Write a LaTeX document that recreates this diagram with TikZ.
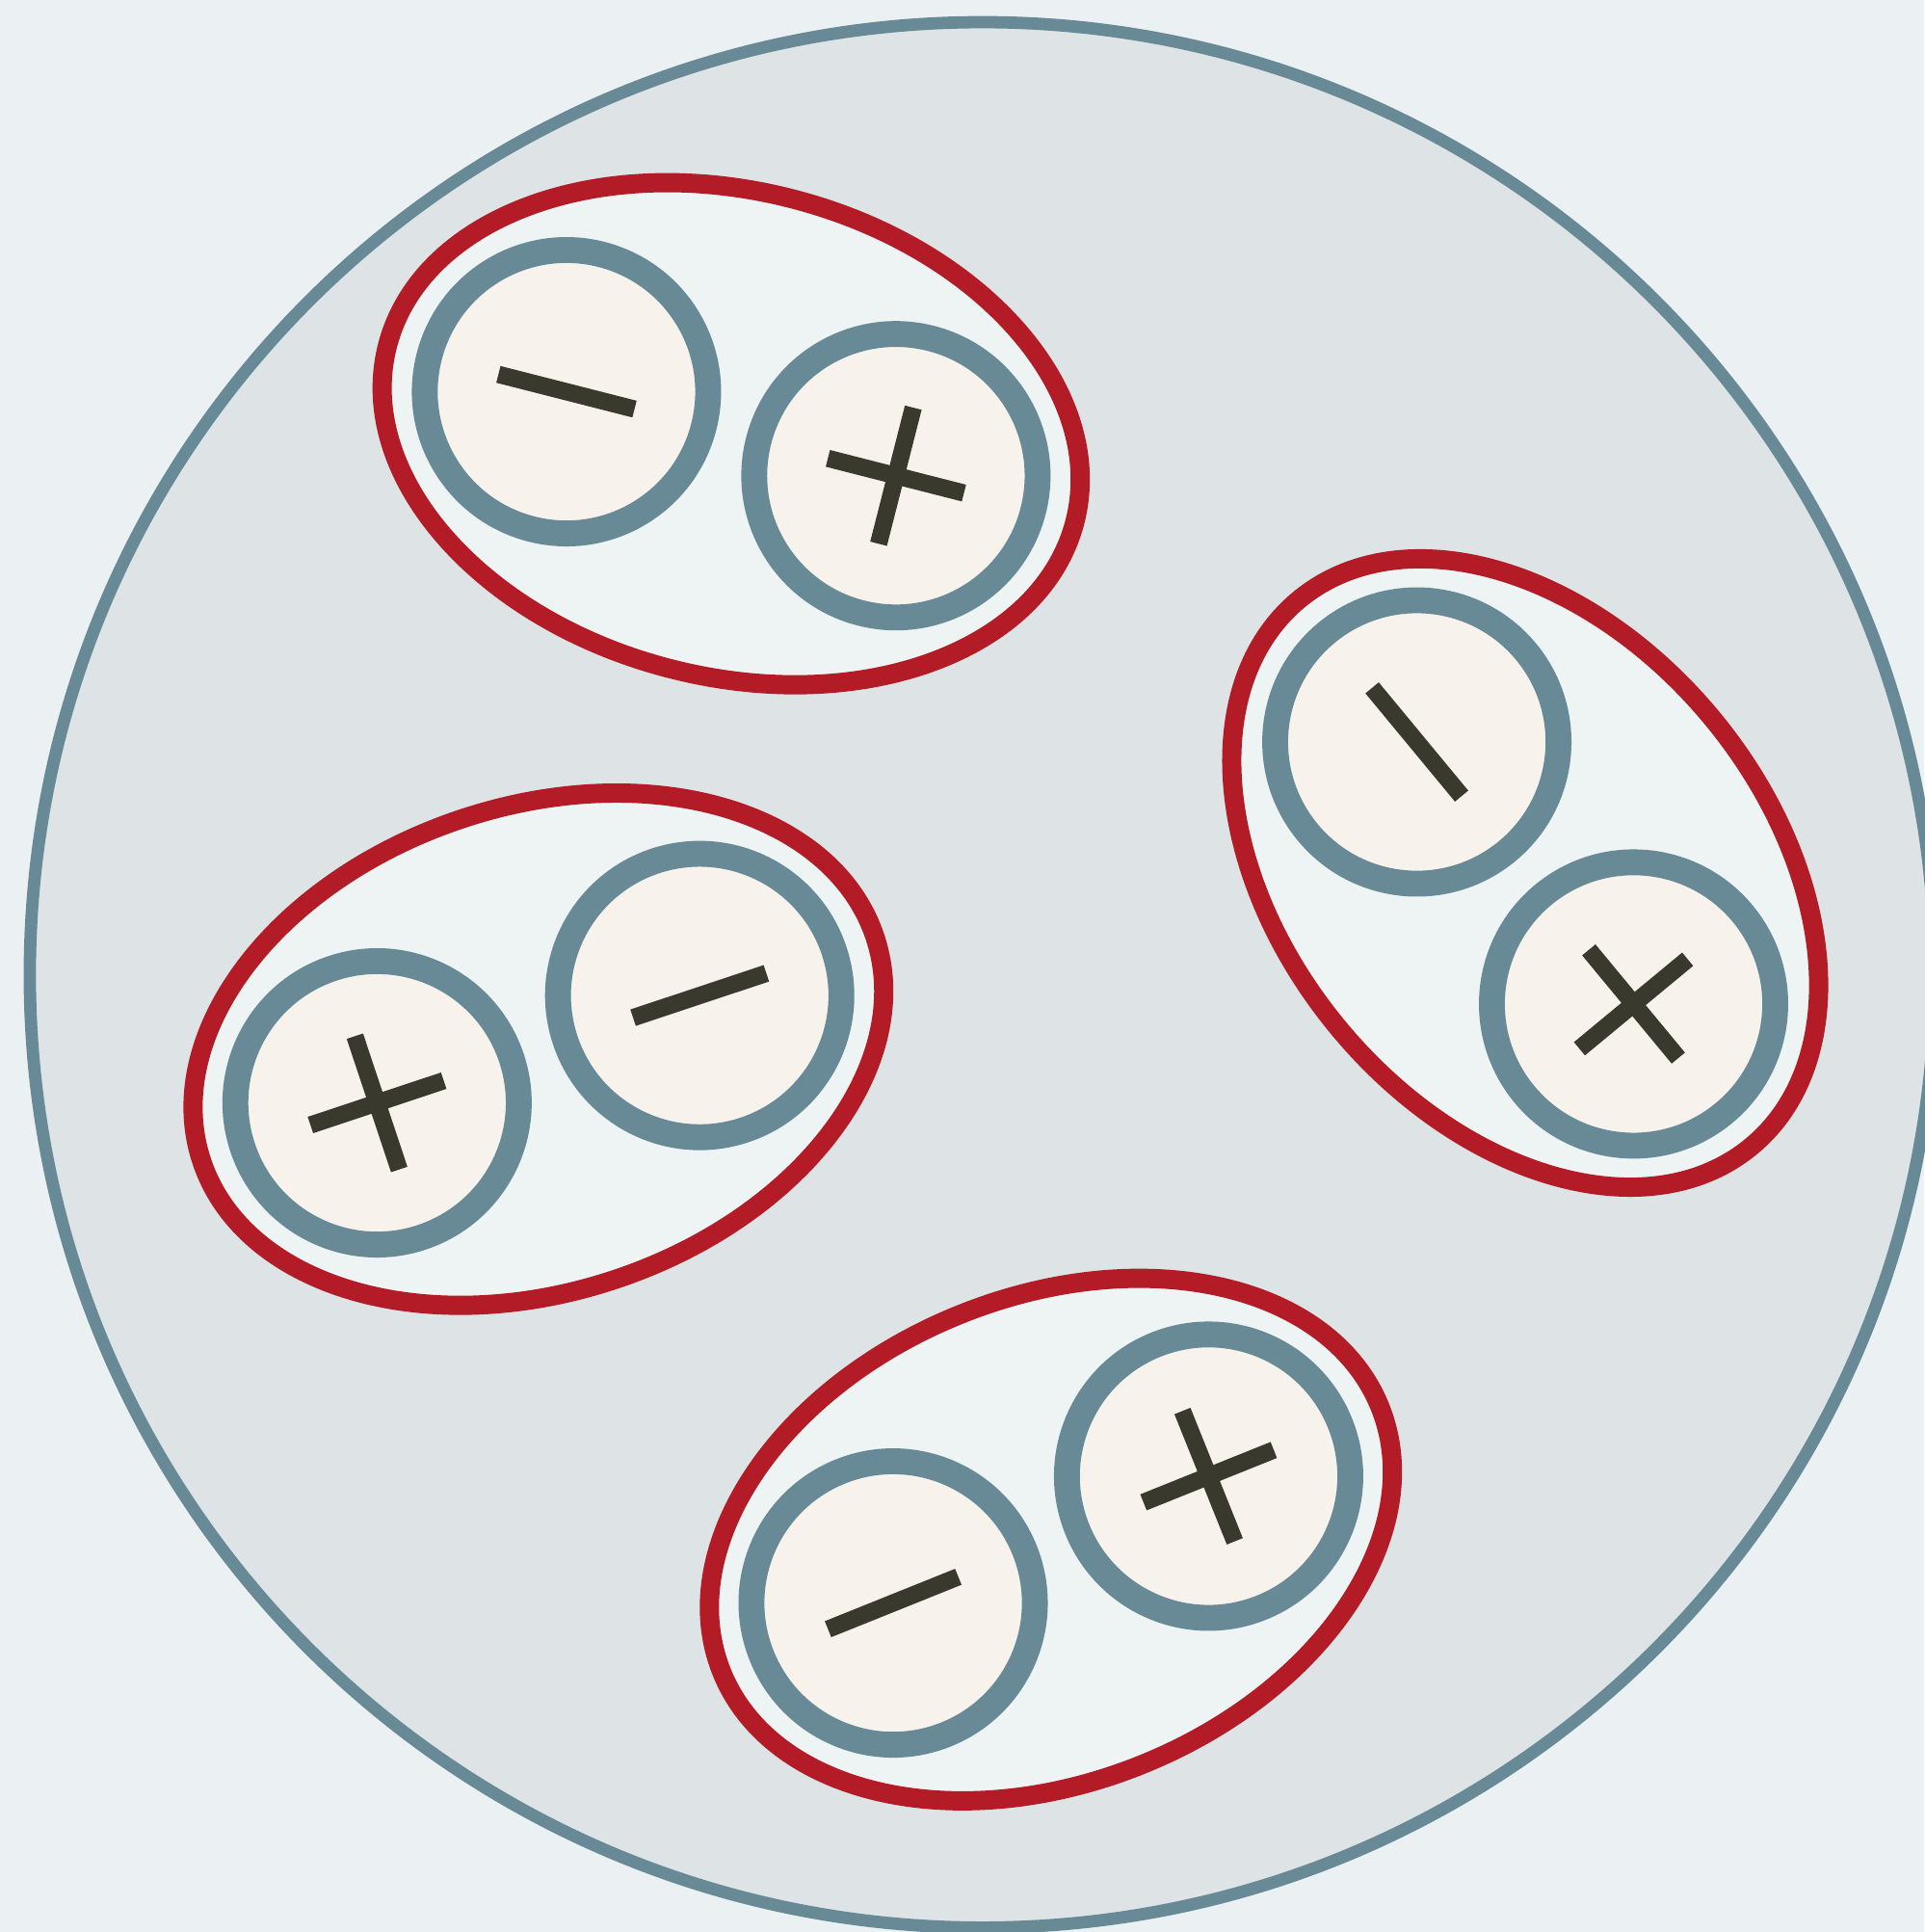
\documentclass[tikz,border=0pt]{standalone}
\def\pxu{0.032cm}
\definecolor{bgc}{HTML}{EBF0F3}
\definecolor{cellfill}{HTML}{DEE3E6}
\definecolor{slate}{HTML}{678A96}
\definecolor{pairfill}{HTML}{EEF3F3}
\definecolor{redc}{HTML}{B31B27}
\definecolor{cream}{HTML}{F7F3EC}
\definecolor{ink}{HTML}{393A2D}
\tikzset{
  cellring/.style={draw=slate, fill=cellfill, line width=10*\pxu},
  pairring/.style={draw=redc, fill=pairfill, line width=15.6*\pxu},
  atom/.style={draw=slate, fill=cream, line width=21*\pxu},
  bar/.style={draw=ink, line width=14*\pxu},
}
\newcommand{\minusat}[1]{\draw[bar] ($(#1)+(-57,0)$) -- ($(#1)+(57,0)$);}
\newcommand{\plusat}[1]{\draw[bar] ($(#1)+(-57,0)$) -- ($(#1)+(57,0)$);
  \draw[bar] ($(#1)+(0,-57)$) -- ($(#1)+(0,57)$);}
\usetikzlibrary{calc}
\begin{document}
\begin{tikzpicture}[x=\pxu, y=-\pxu]
  \fill[bgc] (0,0) rectangle (1562,1568);
  \useasboundingbox (0,0) rectangle (1562,1568);
  \coordinate (cell) at (797.4,791.2);
  \draw[cellring] (cell) circle [radius=773.2];

  % pair 1 (top)
  \begin{scope}[shift={(593.5,352)}, rotate=-14.3]
    \coordinate (p1c) at (0,0);
    \coordinate (p1a) at (-138,0);
    \coordinate (p1b) at (138,0);
    \draw[pairring] (p1c) ellipse [x radius=288, y radius=197];
    \draw[atom] (p1a) circle [radius=115];
    \draw[atom] (p1b) circle [radius=115];
    \minusat{p1a}
    \plusat{p1b}
  \end{scope}

  % pair 2 (right)
  \begin{scope}[shift={(1238,708.5)}, rotate=-50.4]
    \coordinate (p2c) at (0,0);
    \coordinate (p2a) at (-138,0);
    \coordinate (p2b) at (138,0);
    \draw[pairring] (p2c) ellipse [x radius=288, y radius=197];
    \draw[atom] (p2a) circle [radius=115];
    \draw[atom] (p2b) circle [radius=115];
    \minusat{p2a}
    \plusat{p2b}
  \end{scope}

  % pair 3 (left)
  \begin{scope}[shift={(437,851.5)}, rotate=18.4]
    \coordinate (p3c) at (0,0);
    \coordinate (p3a) at (-138,0);
    \coordinate (p3b) at (138,0);
    \draw[pairring] (p3c) ellipse [x radius=288, y radius=197];
    \draw[atom] (p3a) circle [radius=115];
    \draw[atom] (p3b) circle [radius=115];
    \plusat{p3a}
    \minusat{p3b}
  \end{scope}

  % pair 4 (bottom)
  \begin{scope}[shift={(853,1249.5)}, rotate=21.9]
    \coordinate (p4c) at (0,0);
    \coordinate (p4a) at (-138,0);
    \coordinate (p4b) at (138,0);
    \draw[pairring] (p4c) ellipse [x radius=288, y radius=197];
    \draw[atom] (p4a) circle [radius=115];
    \draw[atom] (p4b) circle [radius=115];
    \minusat{p4a}
    \plusat{p4b}
  \end{scope}
\end{tikzpicture}
\end{document}
